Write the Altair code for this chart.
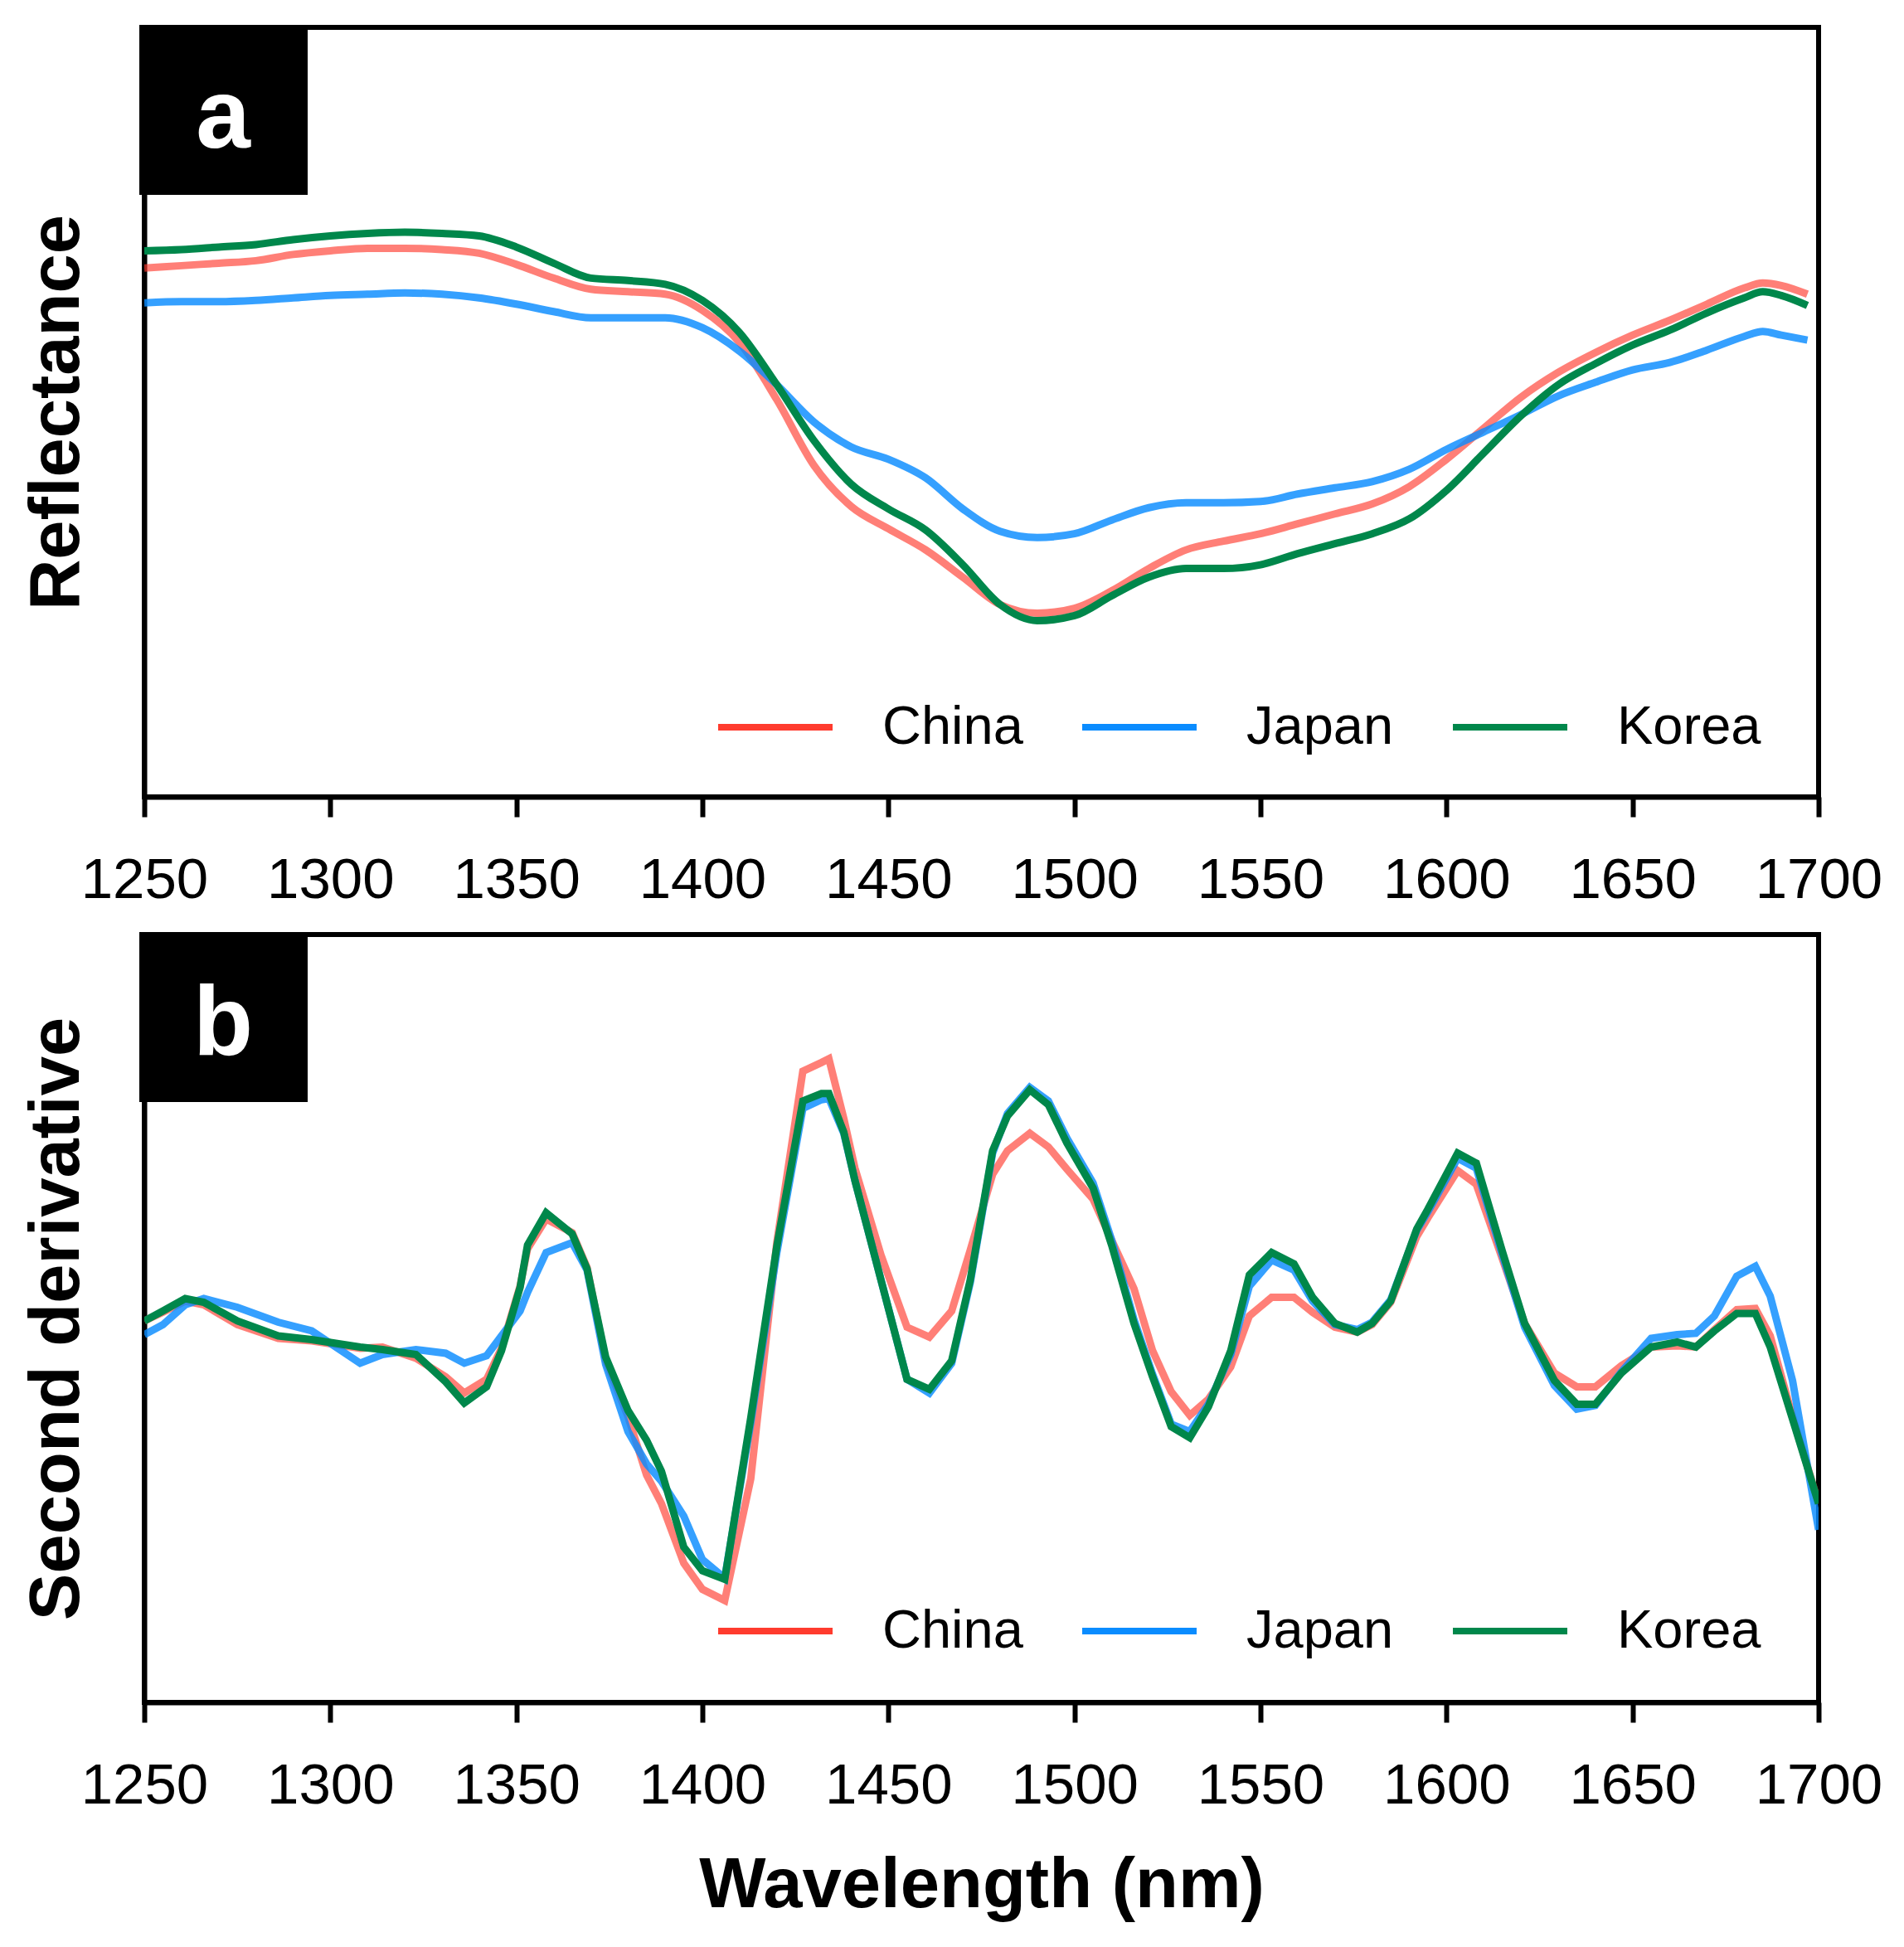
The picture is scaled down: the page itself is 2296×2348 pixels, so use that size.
import altair as alt
import pandas as pd

countries = ["China", "Japan", "Korea"]
line_colors = ["#FF3B2E", "#0A8CFF", "#00874B"]
line_opacity = [0.65, 1.0, 1.0]

# ---- panel a: reflectance ----
wl_a = [1250, 1260, 1270, 1280, 1290, 1300, 1310, 1320, 1330, 1340,
        1350, 1360, 1370, 1380, 1390, 1400, 1410, 1420, 1430, 1440,
        1450, 1460, 1470, 1480, 1490, 1500, 1510, 1520, 1530, 1540,
        1550, 1560, 1570, 1580, 1590, 1600, 1610, 1620, 1630, 1640,
        1650, 1660, 1670, 1680, 1685, 1690, 1697]
refl_china = [0.426, 0.428, 0.430, 0.432, 0.437, 0.440, 0.442, 0.442, 0.441, 0.438,
              0.429, 0.418, 0.409, 0.407, 0.405, 0.392, 0.366, 0.320, 0.267, 0.234,
              0.216, 0.199, 0.177, 0.155, 0.148, 0.152, 0.166, 0.184, 0.199, 0.206,
              0.212, 0.220, 0.228, 0.236, 0.250, 0.272, 0.297, 0.322, 0.342, 0.358,
              0.372, 0.384, 0.397, 0.410, 0.414, 0.412, 0.405]
refl_japan = [0.398, 0.399, 0.399, 0.400, 0.402, 0.404, 0.405, 0.406, 0.405, 0.402,
              0.397, 0.391, 0.386, 0.386, 0.386, 0.378, 0.359, 0.332, 0.302, 0.282,
              0.272, 0.257, 0.232, 0.214, 0.209, 0.212, 0.223, 0.233, 0.237, 0.237,
              0.238, 0.244, 0.249, 0.254, 0.264, 0.280, 0.294, 0.308, 0.323, 0.334,
              0.344, 0.350, 0.360, 0.371, 0.375, 0.372, 0.368]
refl_korea = [0.440, 0.441, 0.443, 0.445, 0.449, 0.452, 0.454, 0.455, 0.454, 0.452,
              0.443, 0.430, 0.418, 0.416, 0.413, 0.400, 0.374, 0.332, 0.287, 0.252,
              0.232, 0.215, 0.187, 0.155, 0.142, 0.146, 0.162, 0.177, 0.184, 0.184,
              0.187, 0.196, 0.204, 0.212, 0.224, 0.247, 0.277, 0.307, 0.332, 0.349,
              0.364, 0.376, 0.390, 0.402, 0.407, 0.404, 0.396]

# ---- panel b: second derivative ----
wl_b = [1250, 1255, 1261, 1266, 1275, 1286, 1295, 1308, 1314, 1323,
        1331, 1336, 1342, 1346, 1351, 1353, 1358, 1365, 1369, 1374,
        1380, 1385, 1389, 1395, 1400, 1406, 1413, 1420, 1427, 1432,
        1434, 1438, 1441, 1448, 1455, 1461, 1467, 1472, 1478, 1482,
        1488, 1493, 1498, 1505, 1510, 1516, 1521, 1526, 1531, 1536,
        1542, 1547, 1553, 1559, 1564, 1570, 1576, 1580, 1585, 1592,
        1595, 1603, 1608, 1615, 1621, 1629, 1635, 1640, 1647, 1655,
        1662, 1667, 1672, 1678, 1683, 1687, 1693, 1700]
d2_china = [0.012, 0.019, 0.028, 0.025, 0.009, -0.002, -0.004, -0.010, -0.009, -0.018,
            -0.033, -0.046, -0.035, -0.010, 0.040, 0.070, 0.094, 0.083, 0.055, -0.020,
            -0.065, -0.112, -0.135, -0.183, -0.204, -0.213, -0.115, 0.075, 0.213, 0.220,
            0.223, 0.175, 0.135, 0.065, 0.007, -0.001, 0.020, 0.069, 0.130, 0.149,
            0.163, 0.152, 0.134, 0.110, 0.077, 0.038, -0.012, -0.045, -0.064, -0.051,
            -0.025, 0.016, 0.031, 0.031, 0.019, 0.007, 0.003, 0.009, 0.027, 0.080,
            0.095, 0.133, 0.122, 0.062, 0.010, -0.030, -0.041, -0.041, -0.024, -0.009,
            -0.008, -0.009, 0.005, 0.021, 0.022, 0.000, -0.065, -0.135]
d2_japan = [0.001, 0.009, 0.025, 0.030, 0.023, 0.011, 0.004, -0.022, -0.015, -0.011,
            -0.014, -0.022, -0.016, 0.000, 0.020, 0.035, 0.067, 0.075, 0.053, -0.023,
            -0.077, -0.103, -0.117, -0.145, -0.180, -0.195, -0.070, 0.067, 0.183, 0.190,
            0.191, 0.163, 0.125, 0.045, -0.035, -0.046, -0.022, 0.043, 0.147, 0.179,
            0.200, 0.189, 0.159, 0.123, 0.077, 0.013, -0.031, -0.071, -0.077, -0.055,
            -0.015, 0.040, 0.061, 0.053, 0.028, 0.009, 0.005, 0.011, 0.029, 0.085,
            0.100, 0.143, 0.135, 0.065, 0.007, -0.040, -0.059, -0.056, -0.029, -0.002,
            0.001, 0.002, 0.016, 0.048, 0.056, 0.032, -0.036, -0.156]
d2_korea = [0.012, 0.020, 0.030, 0.027, 0.012, 0.000, -0.003, -0.009, -0.011, -0.015,
            -0.037, -0.054, -0.041, -0.012, 0.039, 0.073, 0.099, 0.082, 0.054, -0.017,
            -0.060, -0.084, -0.109, -0.170, -0.189, -0.196, -0.066, 0.072, 0.189, 0.195,
            0.195, 0.164, 0.125, 0.045, -0.035, -0.043, -0.020, 0.045, 0.149, 0.177,
            0.198, 0.186, 0.155, 0.119, 0.073, 0.010, -0.033, -0.073, -0.082, -0.057,
            -0.012, 0.049, 0.067, 0.058, 0.031, 0.010, 0.003, 0.010, 0.028, 0.086,
            0.102, 0.147, 0.139, 0.068, 0.010, -0.036, -0.055, -0.055, -0.030, -0.009,
            -0.005, -0.009, 0.004, 0.018, 0.018, -0.009, -0.067, -0.135]

x_ticks = [1250, 1300, 1350, 1400, 1450, 1500, 1550, 1600, 1650, 1700]
panel_letters = ["a", "b"]


def to_long(wl, series):
    rows = []
    for name, vals in zip(countries, series):
        for w, v in zip(wl, vals):
            rows.append({"wavelength": w, "value": v, "country": name})
    return pd.DataFrame(rows)


FONT = "Liberation Sans"
PLOT_W = 2019


def panel(df, letter, ytitle, ydomain, height, xtitle, interp, legend_y):
    color = alt.Color(
        "country:N",
        scale=alt.Scale(domain=countries, range=line_colors),
        legend=alt.Legend(
            title=None, orient="none", legendX=688, legendY=legend_y,
            direction="horizontal", symbolType="stroke",
            symbolSize=138 * 138, symbolStrokeWidth=8,
            labelFont=FONT, labelFontSize=65, labelColor="black", labelLimit=0,
            labelOffset=56, columnPadding=55, padding=0,
        ),
    )
    xaxis = alt.Axis(
        values=x_ticks, format="d", grid=False,
        labelFont=FONT, labelFontSize=69, labelColor="black",
        labelPadding=42, labelFlush=False,
        tickSize=24, tickWidth=6, tickColor="black",
        domainColor="black", domainWidth=6,
        title=xtitle, titleFont=FONT, titleFontSize=85,
        titleFontWeight="bold", titleColor="black", titlePadding=44,
    )
    yaxis = alt.Axis(
        labels=False, ticks=False, grid=False,
        domainColor="black", domainWidth=6,
        title=ytitle, titleFont=FONT, titleFontSize=85,
        titleFontWeight="bold", titleColor="black", titlePadding=62,
    )
    lines = alt.Chart(df).mark_line(strokeWidth=9, interpolate=interp, clip=True).encode(
        x=alt.X("wavelength:Q", scale=alt.Scale(domain=[1250, 1700], nice=False, zero=False), axis=xaxis),
        y=alt.Y("value:Q", scale=alt.Scale(domain=ydomain, nice=False, zero=False), axis=yaxis),
        color=color,
        strokeOpacity=alt.StrokeOpacity(
            "country:N", scale=alt.Scale(domain=countries, range=line_opacity), legend=None
        ),
        order=alt.Order("wavelength:Q"),
    )
    lab_df = pd.DataFrame({"lab": [letter]})
    box = alt.Chart(lab_df).mark_rect(color="black").encode(
        x=alt.value(-6), x2=alt.value(197), y=alt.value(-3), y2=alt.value(202)
    )
    txt = alt.Chart(lab_df).mark_text(
        color="white", font=FONT, fontSize=118, fontWeight="bold",
        align="center", baseline="alphabetic",
    ).encode(x=alt.value(95), y=alt.value(145), text="lab:N")
    return alt.layer(lines, box, txt).properties(width=PLOT_W, height=height)


df_a = to_long(wl_a, [refl_china, refl_japan, refl_korea])
df_b = to_long(wl_b, [d2_china, d2_japan, d2_korea])

pa = panel(df_a, panel_letters[0], "Reflectance", [0.0, 0.62], 928, None, "monotone", 771)
pb = panel(df_b, panel_letters[1], "Second derivative", [-0.295, 0.323], 926,
           "Wavelength (nm)", "linear", 767)

chart = (
    alt.vconcat(pa, pb, spacing=22)
    .resolve_scale(color="independent", strokeOpacity="independent")
    .resolve_legend(color="independent")
    .properties(padding={"left": 23, "top": 27, "right": 10, "bottom": 10}, background="white")
    .configure_view(stroke="black", strokeWidth=6)
)

chart.save("out.html", embed_options={"renderer": "svg", "actions": False})
